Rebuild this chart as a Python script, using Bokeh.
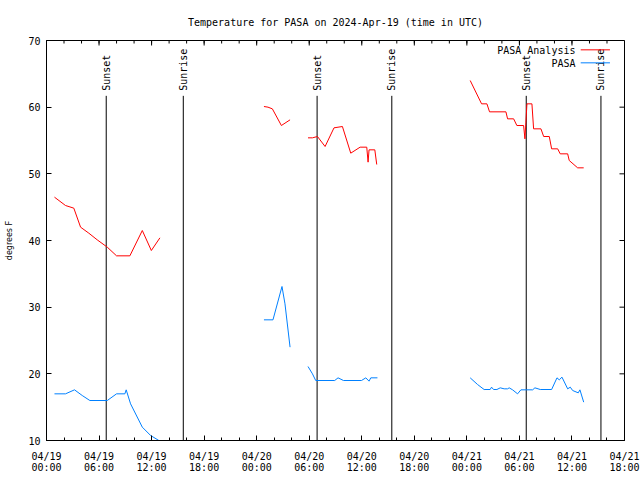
import math
import numpy as np
from bokeh.plotting import figure
from bokeh.models import FixedTicker, Label, Range1d
from bokeh.embed import file_html
from bokeh.resources import INLINE
from bokeh.core.properties import value

FONT = "DejaVu Sans Mono"

# Time in hours since 2024-04-19 00:00 UTC
# ---- PASA Analysis (red) ----
ana_t_d1 = [0.91, 2.17, 3.12, 3.89, 4.83, 5.79, 6.94, 8.0, 9.52, 10.94, 11.97, 12.95]
ana_v_d1 = [46.5, 45.25, 44.85, 42.0, 41.1, 40.1, 39.0, 37.7, 37.7, 41.5, 38.5, 40.4]
ana_t_d2a = [24.83, 25.29, 25.79, 26.82, 27.81]
ana_v_d2a = [60.1, 60.0, 59.75, 57.25, 58.1]
ana_t_d2b = [29.86, 30.37, 30.94, 31.81, 32.83, 33.79, 34.74, 35.81, 36.57, 36.72, 36.83, 37.49, 37.71]
ana_v_d2b = [55.4, 55.4, 55.6, 54.1, 56.9, 57.1, 53.1, 54.0, 54.0, 51.75, 53.6, 53.6, 51.4]
ana_t_d3 = [48.38, 49.68, 50.29, 50.59, 52.46, 52.65, 53.34, 53.71, 54.48, 54.63, 54.74, 54.86,
            55.43, 55.62, 56.46, 56.77, 57.41, 57.68, 58.37, 58.66, 59.51, 59.69, 60.65, 61.34]
ana_v_d3 = [64.0, 60.5, 60.5, 59.3, 59.3, 58.25, 58.25, 57.25, 57.25, 55.25, 57.75, 60.5,
            60.5, 56.75, 56.75, 55.6, 55.6, 53.75, 53.75, 53.0, 53.0, 52.0, 50.9, 50.9]

# ---- PASA (blue) ----
obs_t_d1 = [0.91, 2.17, 3.2, 4.08, 4.95, 6.94, 8.0, 8.95, 9.1, 9.6, 10.94, 11.89, 12.83]
obs_v_d1 = [17.0, 17.0, 17.6, 16.75, 16.0, 16.0, 17.0, 17.0, 17.6, 15.5, 12.0, 10.75, 10.0]
obs_t_d2a = [24.83, 25.86, 26.89, 27.23, 27.81]
obs_v_d2a = [28.1, 28.1, 33.1, 30.5, 24.0]
obs_t_d2b = [29.86, 30.37, 30.74, 32.91, 33.29, 33.91, 35.97, 36.46, 36.83, 37.03, 37.79]
obs_v_d2b = [21.1, 20.0, 19.0, 19.0, 19.4, 19.0, 19.0, 19.4, 18.9, 19.4, 19.4]
obs_t_d3 = [48.38, 49.22, 49.97, 50.66, 50.82, 51.05, 51.43, 51.81, 52.26, 52.65, 52.83, 53.22,
            53.79, 54.17, 55.51, 55.77, 56.38, 57.68, 58.29, 58.55, 58.86, 59.51, 59.81, 60.08,
            60.72, 60.91, 61.34]
obs_v_d3 = [19.4, 18.4, 17.65, 17.65, 18.0, 17.65, 17.65, 17.9, 17.75, 17.75, 17.9, 17.6,
            17.0, 17.6, 17.6, 17.9, 17.65, 17.65, 19.4, 19.1, 19.5, 17.75, 18.0, 17.5,
            17.15, 17.6, 15.75]

# Sun events
event_hours = [6.82, 15.62, 30.9, 39.43, 54.78, 63.31]
event_names = ["Sunset", "Sunrise", "Sunset", "Sunrise", "Sunset", "Sunrise"]

# Axis ticks
tick_hours = [0, 6, 12, 18, 24, 30, 36, 42, 48, 54, 60, 66]
tick_labels = ["04/19\n00:00", "04/19\n06:00", "04/19\n12:00", "04/19\n18:00",
               "04/20\n00:00", "04/20\n06:00", "04/20\n12:00", "04/20\n18:00",
               "04/21\n00:00", "04/21\n06:00", "04/21\n12:00", "04/21\n18:00"]
minor_hours = list(range(0, 67, 2))
y_ticks = [10, 20, 30, 40, 50, 60, 70]
y_title = "degrees F"

series_names = ["PASA Analysis", "PASA"]
series_colors = ["#ff0000", "#0080ff"]

X_MIN, X_MAX = 0, 66
Y_MIN, Y_MAX = 10, 70
FRAME_W, FRAME_H = 578, 400


def join(*pairs):
    xs, ys = [], []
    for i, (t, v) in enumerate(pairs):
        if i:
            xs.append(np.nan)
            ys.append(np.nan)
        xs.extend(t)
        ys.extend(v)
    return np.array(xs, dtype=float), np.array(ys, dtype=float)


ana_x, ana_y = join((ana_t_d1, ana_v_d1), (ana_t_d2a, ana_v_d2a), (ana_t_d2b, ana_v_d2b), (ana_t_d3, ana_v_d3))
obs_x, obs_y = join((obs_t_d1, obs_v_d1), (obs_t_d2a, obs_v_d2a), (obs_t_d2b, obs_v_d2b), (obs_t_d3, obs_v_d3))

p = figure(width=640, height=480,
           x_range=Range1d(X_MIN, X_MAX), y_range=Range1d(Y_MIN, Y_MAX),
           output_backend="svg", toolbar_location=None,
           min_border_left=46, min_border_right=16, min_border_top=40, min_border_bottom=40,
           title="Temperature for PASA on 2024-Apr-19 (time in UTC)")
p.title.text_font = FONT
p.title.text_font_size = "10px"
p.title.text_font_style = "normal"
p.title.text_color = "black"
p.title.align = "center"
p.title.standoff = 25

p.xgrid.visible = False
p.ygrid.visible = False
p.outline_line_color = "black"
p.outline_line_alpha = 1.0
p.background_fill_color = "white"
p.border_fill_color = "white"

xa = p.xaxis[0]
xa.ticker = FixedTicker(ticks=tick_hours, minor_ticks=minor_hours)
xa.major_label_overrides = {h: lab for h, lab in zip(tick_hours, tick_labels)}
xa.major_label_text_line_height = 1.0
ya = p.yaxis[0]
ya.ticker = FixedTicker(ticks=y_ticks, minor_ticks=[])
ya.axis_label = y_title
ya.axis_label_text_font = "DejaVu Sans"
ya.axis_label_text_font_size = "8px"
ya.axis_label_text_font_style = "normal"
ya.axis_label_text_color = "black"
ya.axis_label_standoff = 11

for ax in (xa, ya):
    ax.axis_line_color = "black"
    ax.major_tick_line_color = "black"
    ax.minor_tick_line_color = "black"
    ax.major_tick_in = 5
    ax.major_tick_out = 0
    ax.minor_tick_in = 3
    ax.minor_tick_out = 0
    ax.major_label_text_font = FONT
    ax.major_label_text_font_size = "10px"
    ax.major_label_text_color = "black"
xa.major_label_standoff = 10
ya.major_label_standoff = 6

# Mirror ticks on top and right borders (gnuplot style), derived from the tick lists
h_per_px = (X_MAX - X_MIN) / FRAME_W
deg_per_px = (Y_MAX - Y_MIN) / FRAME_H
major_len_y = 5 * deg_per_px
minor_len_y = 3 * deg_per_px
major_len_x = 5 * h_per_px
p.segment(x0=tick_hours, y0=[Y_MAX] * len(tick_hours), x1=tick_hours,
          y1=[Y_MAX - major_len_y] * len(tick_hours), line_color="black", line_width=1)
p.segment(x0=minor_hours, y0=[Y_MAX] * len(minor_hours), x1=minor_hours,
          y1=[Y_MAX - minor_len_y] * len(minor_hours), line_color="black", line_width=1)
p.segment(x0=[X_MAX] * len(y_ticks), y0=y_ticks, x1=[X_MAX - major_len_x] * len(y_ticks),
          y1=y_ticks, line_color="black", line_width=1)

# Sun event lines and labels
label_base = 62.45
line_top = 61.7
p.segment(x0=event_hours, y0=[Y_MIN] * len(event_hours), x1=event_hours,
          y1=[line_top] * len(event_hours), line_color="black", line_width=1)
p.text(x=event_hours, y=[label_base] * len(event_hours), text=event_names,
       angle=math.pi / 2, text_align="left", text_baseline="middle",
       text_font=value(FONT), text_font_size="10px", text_color="black")

# Data lines
p.line(ana_x, ana_y, line_color=series_colors[0], line_width=1)
p.line(obs_x, obs_y, line_color=series_colors[1], line_width=1)

# Legend (top right, gnuplot style)
leg_text_x = 60.4
leg_rows_y = [68.5, 66.55]
for name, color, ly in zip(series_names, series_colors, leg_rows_y):
    p.add_layout(Label(x=leg_text_x, y=ly, text=name, text_align="right",
                       text_baseline="middle", text_font=FONT, text_font_size="10px",
                       text_color="black"))
    p.segment(x0=[61.0], y0=[ly + 0.1], x1=[64.34], y1=[ly + 0.1], line_color=color, line_width=1)

open("out.html", "w").write(file_html(p, INLINE))
